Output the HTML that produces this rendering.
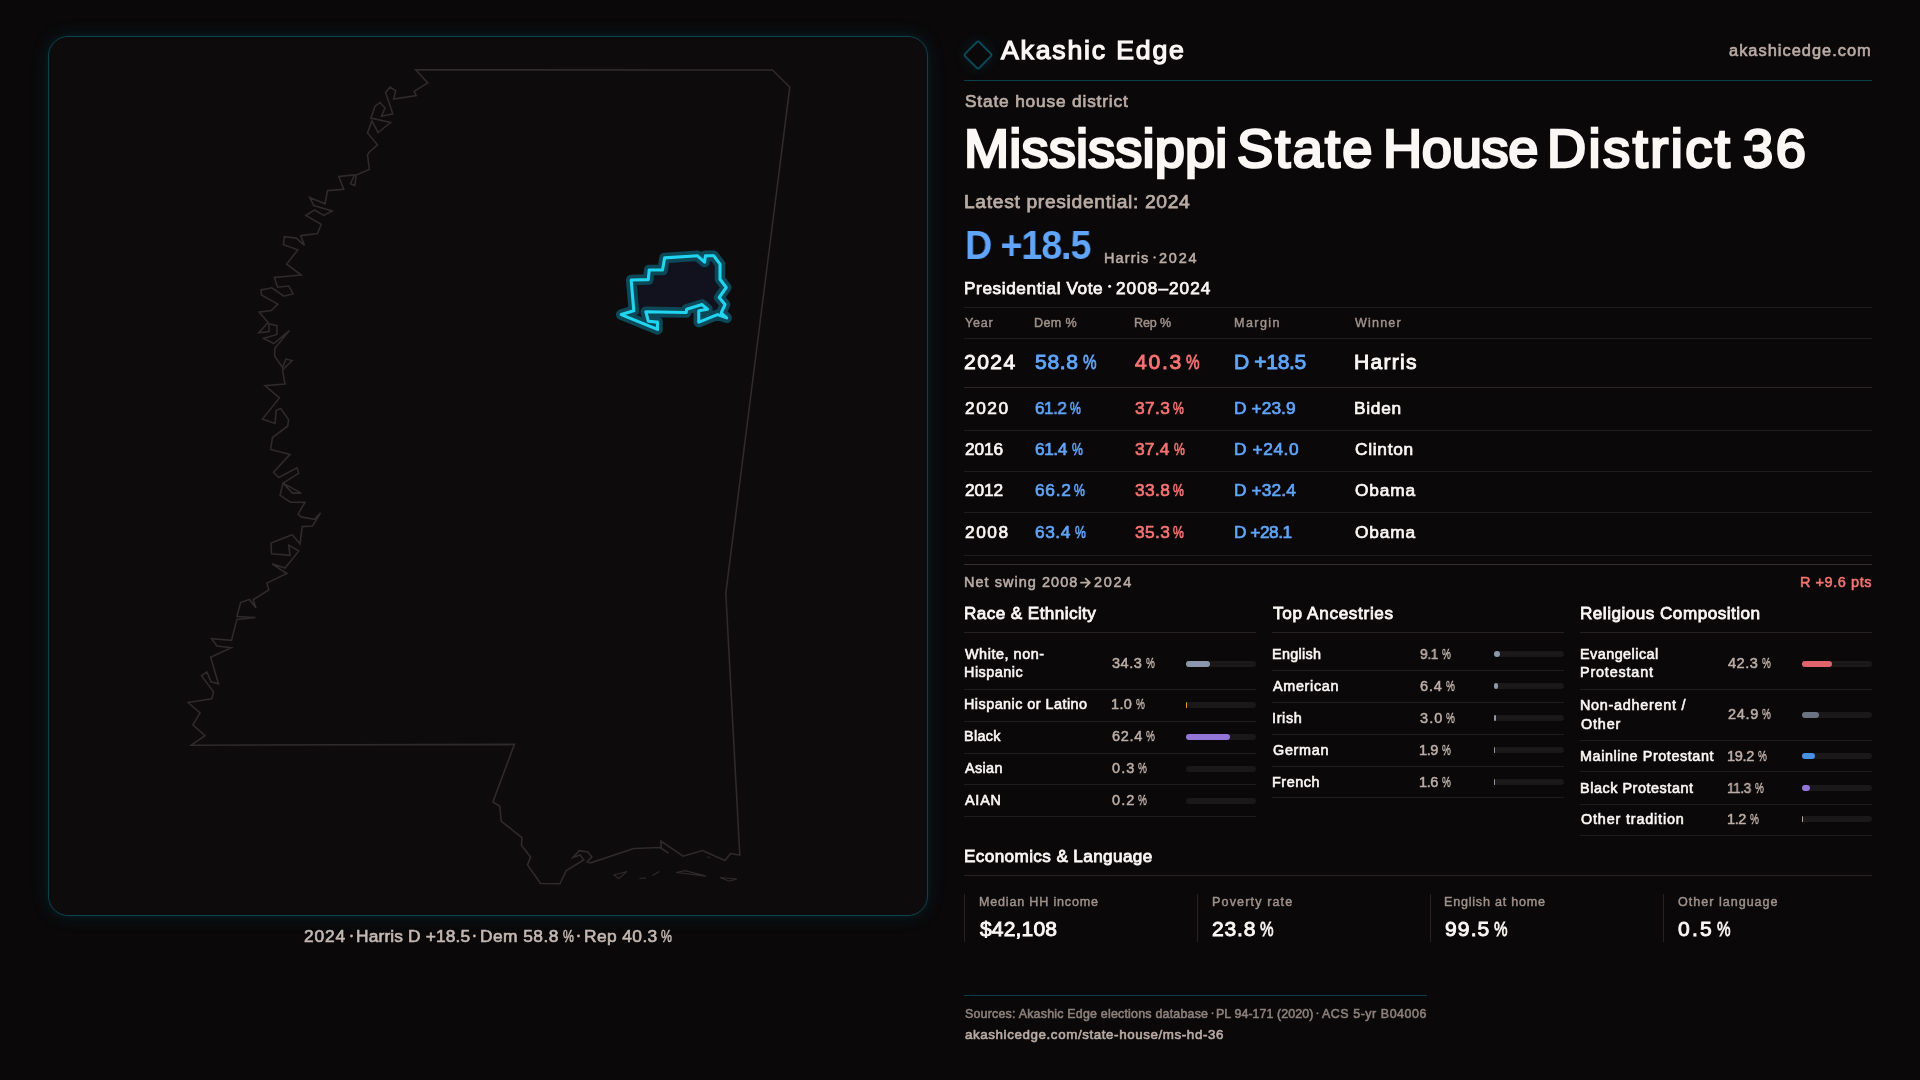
<!DOCTYPE html>
<html><head><meta charset="utf-8"><title>Mississippi State House District 36</title>
<style>
html,body{margin:0;padding:0;}
body{width:1920px;height:1080px;overflow:hidden;background:#0a0809;font-family:"Liberation Sans",sans-serif;position:relative;}
.t{position:absolute;white-space:pre;line-height:1;transform-origin:0 0;will-change:transform;}
.l{position:absolute;}
.bt{position:absolute;width:70px;height:6px;border-radius:3px;background:#1b1819;}
.bf{position:absolute;height:6px;}
#card{position:absolute;left:48px;top:36px;width:878px;height:878px;border:1px solid #0d4351;border-radius:20px;background:#0d0b0c;box-shadow:0 0 20px rgba(20,170,195,0.12),0 0 8px rgba(20,170,195,0.07);}
#logo{position:absolute;left:966.7px;top:44px;width:18px;height:18px;border:2px solid #0b4858;border-radius:3px;transform:rotate(45deg);box-shadow:0 0 14px rgba(20,170,195,0.15);}
svg{position:absolute;left:0;top:0;}
</style></head><body>
<div id="card"></div>
<svg width="1920" height="1080" viewBox="0 0 1920 1080">
<path d="M415.6 69.8 L427.8 82.9 L414.1 91.2 L416.2 95.6 L393.8 99.0 L395.6 90.6 L390.0 87.1 L385.6 92.5 L392.8 113.8 L381.6 116.2 L385.0 107.9 L380.0 102.5 L375.0 106.2 L370.9 118.1 L390.6 122.5 L378.1 132.5 L371.9 120.9 L367.5 132.9 L377.5 144.8 L369.4 151.9 L367.5 155.0 L369.4 169.4 L356.2 175.0 L354.8 185.6 L350.6 183.8 L354.4 175.0 L338.8 176.5 L343.8 189.4 L327.5 190.6 L325.0 203.8 L309.8 197.5 L313.8 205.6 L332.2 211.0 L323.8 215.4 L314.4 210.0 L305.9 215.4 L321.2 224.4 L317.5 233.5 L300.6 235.6 L304.4 245.4 L296.2 238.1 L284.4 236.6 L283.5 244.8 L297.9 249.8 L286.6 264.1 L301.2 275.0 L274.4 277.5 L277.5 287.2 L288.8 286.0 L293.1 293.8 L283.8 296.2 L271.9 287.8 L260.9 290.0 L261.5 295.0 L277.8 304.1 L271.2 310.6 L259.1 312.1 L268.1 322.5 L258.8 332.8 L269.0 331.6 L269.0 323.8 L276.9 325.6 L276.9 334.4 L263.5 338.5 L273.8 343.5 L289.4 330.6 L275.0 348.1 L274.6 356.0 L282.5 367.5 L286.0 359.0 L292.2 360.6 L282.5 370.0 L285.0 384.1 L265.0 385.6 L279.4 397.9 L262.5 419.0 L275.0 423.4 L276.2 410.2 L280.6 408.5 L288.5 419.4 L287.8 426.0 L272.5 437.5 L270.6 449.4 L290.0 454.4 L273.5 472.2 L278.8 477.5 L296.9 467.9 L298.8 473.1 L283.1 483.1 L301.2 493.1 L292.5 493.1 L283.1 483.1 L280.0 495.2 L290.4 502.2 L305.0 502.2 L298.1 514.0 L301.2 516.9 L314.4 519.4 L320.6 512.8 L312.5 526.0 L302.2 526.6 L300.0 543.8 L292.2 534.8 L271.0 543.1 L271.5 553.8 L290.0 555.4 L288.8 545.2 L298.8 551.0 L285.0 568.1 L271.9 563.8 L286.9 573.5 L266.9 583.1 L268.8 590.0 L253.1 599.8 L256.0 608.1 L249.4 599.4 L240.6 602.5 L236.9 616.5 L255.6 617.5 L236.9 619.4 L231.5 640.4 L211.6 638.8 L216.9 646.0 L231.2 647.8 L210.6 657.2 L218.5 683.8 L211.0 681.9 L206.9 671.9 L201.5 675.6 L213.5 691.9 L211.9 698.8 L188.1 702.5 L200.0 712.8 L192.9 724.8 L205.0 735.6 L191.2 745.2 L514.4 744.4 L492.9 801.9 L499.8 806.2 L501.2 821.2 L521.9 837.5 L521.5 845.6 L530.6 856.9 L527.5 865.0 L540.6 883.5 L560.0 883.8 L566.2 870.6 L583.8 860.0 L580.2 855.0 L573.1 857.2 L579.4 850.6 L587.8 851.9 L591.9 856.9 L587.2 861.9 L590.6 862.8 L633.8 848.5 L660.0 847.5 L668.5 853.1 L661.2 848.1 L660.9 841.0 L683.1 856.2 L702.5 850.6 L725.0 860.6 L730.6 853.5 L739.8 855.0 L725.8 593.3 L789.8 87.2 L772.5 70.0 Z" fill="none" stroke="#2f2a2b" stroke-width="1.6" stroke-linejoin="miter"/>
<path d="M613.8 875.0 L626.9 871.5 L618.8 878.5 Z M639.4 878.5 L646.0 877.8 M652.5 875.6 L659.4 871.5 M676.2 872.5 L685.0 870.6 L706.2 876.2 Z M720.0 877.5 L729.4 881.2 L736.9 879.0 Z M707.5 856.5 L710.0 858.0" fill="none" stroke="#2f2a2b" stroke-width="1.2"/>
<path d="M664.6 257.9 L697.5 255.8 L704.6 262.1 L705.4 255.8 L713.8 255.8 L720.0 264.2 L720.0 279.2 L726.2 287.5 L719.2 297.5 L725.0 304.6 L721.2 312.9 L726.7 317.9 L717.5 314.6 L698.8 322.1 L698.8 310.8 L707.5 309.2 L702.1 304.6 L686.7 309.2 L686.2 312.5 L645.8 311.7 L648.3 321.2 L657.5 322.1 L657.5 329.4 L621.2 314.6 L633.8 310.8 L631.2 280.0 L648.3 279.6 L649.2 270.0 L662.5 270.0 Z" fill="#12121e" stroke="#0c4857" stroke-width="10.5" stroke-linejoin="round"/>
<path d="M664.6 257.9 L697.5 255.8 L704.6 262.1 L705.4 255.8 L713.8 255.8 L720.0 264.2 L720.0 279.2 L726.2 287.5 L719.2 297.5 L725.0 304.6 L721.2 312.9 L726.7 317.9 L717.5 314.6 L698.8 322.1 L698.8 310.8 L707.5 309.2 L702.1 304.6 L686.7 309.2 L686.2 312.5 L645.8 311.7 L648.3 321.2 L657.5 322.1 L657.5 329.4 L621.2 314.6 L633.8 310.8 L631.2 280.0 L648.3 279.6 L649.2 270.0 L662.5 270.0 Z" fill="none" stroke="#21d5f0" stroke-width="3.1" stroke-linejoin="round"/>
<path d="M1081 582.7 H1089.4 M1085.6 578.6 L1089.8 582.7 L1085.6 586.8" fill="none" stroke="#baaca5" stroke-width="1.8" stroke-linecap="round" stroke-linejoin="round"/>
<circle cx="351.5" cy="936" r="1.4" fill="#c4b8b2"/><circle cx="474.4" cy="936" r="1.4" fill="#c4b8b2"/><circle cx="578.5" cy="936" r="1.4" fill="#c4b8b2"/>
<circle cx="1154.6" cy="257.4" r="1.2" fill="#baaca5"/><circle cx="1109.6" cy="286.2" r="1.5" fill="#faf7f5"/><circle cx="1212.5" cy="1013.2" r="1.05" fill="#8d817b"/><circle cx="1317.5" cy="1013.2" r="1.05" fill="#8d817b"/>
</svg>
<div id="logo"></div>
<div class="l" style="left:964px;top:80px;width:908px;height:1px;background:#093f4c"></div><div class="l" style="left:964px;top:307px;width:908px;height:1px;background:#1f1c1d"></div><div class="l" style="left:964px;top:338px;width:908px;height:1px;background:#1f1c1d"></div><div class="l" style="left:964px;top:430px;width:908px;height:1px;background:#1f1c1d"></div><div class="l" style="left:964px;top:471px;width:908px;height:1px;background:#1f1c1d"></div><div class="l" style="left:964px;top:512px;width:908px;height:1px;background:#1f1c1d"></div><div class="l" style="left:964px;top:555px;width:908px;height:1px;background:#1f1c1d"></div><div class="l" style="left:964px;top:387px;width:908px;height:1px;background:#2a2627"></div><div class="l" style="left:964px;top:564px;width:908px;height:1px;background:#343031"></div><div class="l" style="left:964px;top:632px;width:292px;height:1px;background:#262223"></div><div class="l" style="left:1272px;top:632px;width:292px;height:1px;background:#262223"></div><div class="l" style="left:1580px;top:632px;width:292px;height:1px;background:#262223"></div><div class="l" style="left:964px;top:689px;width:292px;height:1px;background:#1f1c1d"></div><div class="l" style="left:964px;top:721px;width:292px;height:1px;background:#1f1c1d"></div><div class="l" style="left:964px;top:753px;width:292px;height:1px;background:#1f1c1d"></div><div class="l" style="left:964px;top:784px;width:292px;height:1px;background:#1f1c1d"></div><div class="l" style="left:964px;top:816px;width:292px;height:1px;background:#1f1c1d"></div><div class="l" style="left:1272px;top:670px;width:292px;height:1px;background:#1f1c1d"></div><div class="l" style="left:1272px;top:702px;width:292px;height:1px;background:#1f1c1d"></div><div class="l" style="left:1272px;top:734px;width:292px;height:1px;background:#1f1c1d"></div><div class="l" style="left:1272px;top:766px;width:292px;height:1px;background:#1f1c1d"></div><div class="l" style="left:1272px;top:797px;width:292px;height:1px;background:#1f1c1d"></div><div class="l" style="left:1580px;top:689px;width:292px;height:1px;background:#1f1c1d"></div><div class="l" style="left:1580px;top:740px;width:292px;height:1px;background:#1f1c1d"></div><div class="l" style="left:1580px;top:771px;width:292px;height:1px;background:#1f1c1d"></div><div class="l" style="left:1580px;top:804px;width:292px;height:1px;background:#1f1c1d"></div><div class="l" style="left:1580px;top:835px;width:292px;height:1px;background:#1f1c1d"></div><div class="l" style="left:964px;top:875px;width:908px;height:1px;background:#262223"></div><div class="l" style="left:964px;top:894px;width:1px;height:48px;background:#262223"></div><div class="l" style="left:1197px;top:894px;width:1px;height:48px;background:#262223"></div><div class="l" style="left:1430px;top:894px;width:1px;height:48px;background:#262223"></div><div class="l" style="left:1663px;top:894px;width:1px;height:48px;background:#262223"></div><div class="l" style="left:964px;top:995px;width:463px;height:1px;background:#093f4c"></div>
<div class="bt" style="left:1186px;top:661px"></div><div class="bf" style="left:1186px;top:661px;width:24.01px;background:#8b98ac;border-radius:3.0px"></div><div class="bt" style="left:1186px;top:702px"></div><div class="bf" style="left:1186px;top:702px;width:1.30px;background:#e59a1c;border-radius:0.7px"></div><div class="bt" style="left:1186px;top:734px"></div><div class="bf" style="left:1186px;top:734px;width:43.68px;background:#9375d9;border-radius:3.0px"></div><div class="bt" style="left:1186px;top:766px"></div><div class="bt" style="left:1186px;top:798px"></div><div class="bt" style="left:1494px;top:651px"></div><div class="bf" style="left:1494px;top:651px;width:6.37px;background:#8b98ac;border-radius:3.0px"></div><div class="bt" style="left:1494px;top:683px"></div><div class="bf" style="left:1494px;top:683px;width:4.48px;background:#8b98ac;border-radius:2.2px"></div><div class="bt" style="left:1494px;top:715px"></div><div class="bf" style="left:1494px;top:715px;width:2.10px;background:#8b98ac;border-radius:1.1px"></div><div class="bt" style="left:1494px;top:747px"></div><div class="bf" style="left:1494px;top:747px;width:1.33px;background:#8b98ac;border-radius:0.7px"></div><div class="bt" style="left:1494px;top:779px"></div><div class="bf" style="left:1494px;top:779px;width:1.30px;background:#8b98ac;border-radius:0.7px"></div><div class="bt" style="left:1802px;top:661px"></div><div class="bf" style="left:1802px;top:661px;width:29.61px;background:#e0646b;border-radius:3.0px"></div><div class="bt" style="left:1802px;top:712px"></div><div class="bf" style="left:1802px;top:712px;width:17.43px;background:#6b7280;border-radius:3.0px"></div><div class="bt" style="left:1802px;top:753px"></div><div class="bf" style="left:1802px;top:753px;width:13.44px;background:#4a90e2;border-radius:3.0px"></div><div class="bt" style="left:1802px;top:785px"></div><div class="bf" style="left:1802px;top:785px;width:7.91px;background:#9375d9;border-radius:3.0px"></div><div class="bt" style="left:1802px;top:816px"></div><div class="bf" style="left:1802px;top:816px;width:1.30px;background:#b3a7a1;border-radius:0.7px"></div>
<div class="t" style="left:1001.00px;top:37.49px;font-size:26.67px;color:#faf7f5;letter-spacing:1.803px;-webkit-text-stroke:1.25px #faf7f5;">Akashic Edge</div>
<div class="t" style="left:1729.40px;top:42.44px;font-size:16.42px;color:#baaca5;letter-spacing:1.006px;-webkit-text-stroke:0.6px #baaca5;">akashicedge.com</div>
<div class="t" style="left:964.50px;top:92.95px;font-size:17.3px;color:#baaca5;letter-spacing:0.833px;-webkit-text-stroke:0.7px #baaca5;">State house district</div>
<div class="t" style="left:963.80px;top:121.44px;font-size:54.22px;color:#faf7f5;letter-spacing:0.115px;-webkit-text-stroke:2.6px #faf7f5;">Mississippi</div>
<div class="t" style="left:1236.75px;top:121.44px;font-size:54.22px;color:#faf7f5;letter-spacing:2.201px;-webkit-text-stroke:2.6px #faf7f5;">State</div>
<div class="t" style="left:1383.00px;top:121.44px;font-size:54.22px;color:#faf7f5;letter-spacing:-0.331px;-webkit-text-stroke:2.6px #faf7f5;">House</div>
<div class="t" style="left:1547.25px;top:121.44px;font-size:54.22px;color:#faf7f5;letter-spacing:2.452px;-webkit-text-stroke:2.6px #faf7f5;">District</div>
<div class="t" style="left:1743.00px;top:121.44px;font-size:54.22px;color:#faf7f5;letter-spacing:2.596px;-webkit-text-stroke:2.6px #faf7f5;">36</div>
<div class="t" style="left:964.40px;top:192.14px;font-size:19.26px;color:#baaca5;letter-spacing:0.669px;-webkit-text-stroke:0.75px #baaca5;">Latest presidential: 2024</div>
<div class="t" style="left:965.14px;top:225.40px;font-size:40.7px;color:#60a5fa;letter-spacing:-1.221px;transform:scaleX(0.9276);font-weight:700;">D +18.5</div>
<div class="t" style="left:1103.90px;top:250.95px;font-size:14.46px;color:#baaca5;letter-spacing:1.137px;-webkit-text-stroke:0.55px #baaca5;">Harris</div>
<div class="t" style="left:1158.80px;top:250.95px;font-size:14.46px;color:#baaca5;letter-spacing:1.795px;-webkit-text-stroke:0.55px #baaca5;">2024</div>
<div class="t" style="left:964.10px;top:279.96px;font-size:17.22px;color:#faf7f5;letter-spacing:0.598px;-webkit-text-stroke:0.75px #faf7f5;">Presidential Vote</div>
<div class="t" style="left:1115.70px;top:279.96px;font-size:17.22px;color:#faf7f5;letter-spacing:1.032px;-webkit-text-stroke:0.75px #faf7f5;">2008–2024</div>
<div class="t" style="left:965.00px;top:316.94px;font-size:12.57px;color:#9f918a;letter-spacing:0.767px;-webkit-text-stroke:0.45px #9f918a;">Year</div>
<div class="t" style="left:1033.50px;top:316.94px;font-size:12.57px;color:#9f918a;letter-spacing:0.372px;-webkit-text-stroke:0.45px #9f918a;">Dem %</div>
<div class="t" style="left:1133.50px;top:316.94px;font-size:12.57px;color:#9f918a;letter-spacing:-0.134px;-webkit-text-stroke:0.45px #9f918a;">Rep %</div>
<div class="t" style="left:1233.50px;top:316.94px;font-size:12.57px;color:#9f918a;letter-spacing:1.418px;-webkit-text-stroke:0.45px #9f918a;">Margin</div>
<div class="t" style="left:1354.50px;top:316.94px;font-size:12.57px;color:#9f918a;letter-spacing:1.178px;-webkit-text-stroke:0.45px #9f918a;">Winner</div>
<div class="t" style="left:964.00px;top:350.71px;font-size:21.08px;color:#faf7f5;letter-spacing:1.444px;-webkit-text-stroke:0.9px #faf7f5;">2024</div>
<div class="t" style="left:1034.50px;top:350.71px;font-size:21.08px;color:#60a5fa;letter-spacing:0.666px;-webkit-text-stroke:0.9px #60a5fa;">58.8</div>
<div class="t" style="left:1082.52px;top:350.71px;font-size:21.08px;color:#60a5fa;letter-spacing:0.000px;transform:scaleX(0.7211);-webkit-text-stroke:0.9px #60a5fa;">%</div>
<div class="t" style="left:1134.50px;top:350.71px;font-size:21.08px;color:#f87373;letter-spacing:1.750px;-webkit-text-stroke:0.9px #f87373;">40.3</div>
<div class="t" style="left:1185.77px;top:350.71px;font-size:21.08px;color:#f87373;letter-spacing:0.000px;transform:scaleX(0.7211);-webkit-text-stroke:0.9px #f87373;">%</div>
<div class="t" style="left:1233.50px;top:350.71px;font-size:21.08px;color:#60a5fa;letter-spacing:-0.365px;-webkit-text-stroke:0.9px #60a5fa;">D +18.5</div>
<div class="t" style="left:1353.50px;top:350.71px;font-size:21.08px;color:#faf7f5;letter-spacing:1.267px;-webkit-text-stroke:0.9px #faf7f5;">Harris</div>
<div class="t" style="left:964.50px;top:399.70px;font-size:17.3px;color:#faf7f5;letter-spacing:1.556px;-webkit-text-stroke:0.7px #faf7f5;">2020</div>
<div class="t" style="left:1034.50px;top:399.70px;font-size:17.3px;color:#60a5fa;letter-spacing:-0.519px;transform:scaleX(0.9915);-webkit-text-stroke:0.7px #60a5fa;">61.2</div>
<div class="t" style="left:1070.38px;top:399.70px;font-size:17.3px;color:#60a5fa;letter-spacing:0.000px;transform:scaleX(0.7080);-webkit-text-stroke:0.7px #60a5fa;">%</div>
<div class="t" style="left:1134.50px;top:399.70px;font-size:17.3px;color:#f87373;letter-spacing:0.392px;-webkit-text-stroke:0.7px #f87373;">37.3</div>
<div class="t" style="left:1173.38px;top:399.70px;font-size:17.3px;color:#f87373;letter-spacing:0.000px;transform:scaleX(0.7080);-webkit-text-stroke:0.7px #f87373;">%</div>
<div class="t" style="left:1233.50px;top:399.70px;font-size:17.3px;color:#60a5fa;letter-spacing:0.101px;-webkit-text-stroke:0.7px #60a5fa;">D +23.9</div>
<div class="t" style="left:1353.50px;top:399.70px;font-size:17.3px;color:#faf7f5;letter-spacing:0.728px;-webkit-text-stroke:0.7px #faf7f5;">Biden</div>
<div class="t" style="left:964.50px;top:440.95px;font-size:17.3px;color:#faf7f5;letter-spacing:-0.111px;-webkit-text-stroke:0.7px #faf7f5;">2016</div>
<div class="t" style="left:1034.50px;top:440.95px;font-size:17.3px;color:#60a5fa;letter-spacing:-0.441px;-webkit-text-stroke:0.7px #60a5fa;">61.4</div>
<div class="t" style="left:1071.88px;top:440.95px;font-size:17.3px;color:#60a5fa;letter-spacing:0.000px;transform:scaleX(0.7080);-webkit-text-stroke:0.7px #60a5fa;">%</div>
<div class="t" style="left:1134.50px;top:440.95px;font-size:17.3px;color:#f87373;letter-spacing:0.226px;-webkit-text-stroke:0.7px #f87373;">37.4</div>
<div class="t" style="left:1173.88px;top:440.95px;font-size:17.3px;color:#f87373;letter-spacing:0.000px;transform:scaleX(0.7080);-webkit-text-stroke:0.7px #f87373;">%</div>
<div class="t" style="left:1233.50px;top:440.95px;font-size:17.3px;color:#60a5fa;letter-spacing:0.601px;-webkit-text-stroke:0.7px #60a5fa;">D +24.0</div>
<div class="t" style="left:1354.50px;top:440.95px;font-size:17.3px;color:#faf7f5;letter-spacing:0.720px;-webkit-text-stroke:0.7px #faf7f5;">Clinton</div>
<div class="t" style="left:964.50px;top:482.45px;font-size:17.3px;color:#faf7f5;letter-spacing:-0.111px;-webkit-text-stroke:0.7px #faf7f5;">2012</div>
<div class="t" style="left:1034.50px;top:482.45px;font-size:17.3px;color:#60a5fa;letter-spacing:0.726px;-webkit-text-stroke:0.7px #60a5fa;">66.2</div>
<div class="t" style="left:1074.38px;top:482.45px;font-size:17.3px;color:#60a5fa;letter-spacing:0.000px;transform:scaleX(0.7080);-webkit-text-stroke:0.7px #60a5fa;">%</div>
<div class="t" style="left:1134.50px;top:482.45px;font-size:17.3px;color:#f87373;letter-spacing:0.392px;-webkit-text-stroke:0.7px #f87373;">33.8</div>
<div class="t" style="left:1173.38px;top:482.45px;font-size:17.3px;color:#f87373;letter-spacing:0.000px;transform:scaleX(0.7080);-webkit-text-stroke:0.7px #f87373;">%</div>
<div class="t" style="left:1233.50px;top:482.45px;font-size:17.3px;color:#60a5fa;letter-spacing:0.142px;-webkit-text-stroke:0.7px #60a5fa;">D +32.4</div>
<div class="t" style="left:1354.50px;top:482.45px;font-size:17.3px;color:#faf7f5;letter-spacing:0.860px;-webkit-text-stroke:0.7px #faf7f5;">Obama</div>
<div class="t" style="left:964.50px;top:524.45px;font-size:17.3px;color:#faf7f5;letter-spacing:1.556px;-webkit-text-stroke:0.7px #faf7f5;">2008</div>
<div class="t" style="left:1034.50px;top:524.45px;font-size:17.3px;color:#60a5fa;letter-spacing:0.559px;-webkit-text-stroke:0.7px #60a5fa;">63.4</div>
<div class="t" style="left:1074.88px;top:524.45px;font-size:17.3px;color:#60a5fa;letter-spacing:0.000px;transform:scaleX(0.7080);-webkit-text-stroke:0.7px #60a5fa;">%</div>
<div class="t" style="left:1134.50px;top:524.45px;font-size:17.3px;color:#f87373;letter-spacing:0.392px;-webkit-text-stroke:0.7px #f87373;">35.3</div>
<div class="t" style="left:1173.38px;top:524.45px;font-size:17.3px;color:#f87373;letter-spacing:0.000px;transform:scaleX(0.7080);-webkit-text-stroke:0.7px #f87373;">%</div>
<div class="t" style="left:1233.50px;top:524.45px;font-size:17.3px;color:#60a5fa;letter-spacing:-0.483px;-webkit-text-stroke:0.7px #60a5fa;">D +28.1</div>
<div class="t" style="left:1354.50px;top:524.45px;font-size:17.3px;color:#faf7f5;letter-spacing:0.860px;-webkit-text-stroke:0.7px #faf7f5;">Obama</div>
<div class="t" style="left:963.50px;top:575.45px;font-size:14.46px;color:#baaca5;letter-spacing:1.051px;-webkit-text-stroke:0.55px #baaca5;">Net swing 2008</div>
<div class="t" style="left:1094.25px;top:575.45px;font-size:14.46px;color:#baaca5;letter-spacing:1.712px;-webkit-text-stroke:0.55px #baaca5;">2024</div>
<div class="t" style="left:1800.25px;top:575.45px;font-size:14.46px;color:#f87373;letter-spacing:0.577px;-webkit-text-stroke:0.55px #f87373;">R +9.6 pts</div>
<div class="t" style="left:963.50px;top:604.98px;font-size:17.15px;color:#faf7f5;letter-spacing:0.405px;-webkit-text-stroke:0.8px #faf7f5;">Race &amp; Ethnicity</div>
<div class="t" style="left:1272.50px;top:604.98px;font-size:17.15px;color:#faf7f5;letter-spacing:0.666px;-webkit-text-stroke:0.8px #faf7f5;">Top Ancestries</div>
<div class="t" style="left:1579.50px;top:604.98px;font-size:17.15px;color:#faf7f5;letter-spacing:0.475px;-webkit-text-stroke:0.8px #faf7f5;">Religious Composition</div>
<div class="t" style="left:963.50px;top:847.98px;font-size:17.15px;color:#faf7f5;letter-spacing:0.381px;-webkit-text-stroke:0.8px #faf7f5;">Economics &amp; Language</div>
<div class="t" style="left:964.50px;top:646.71px;font-size:14.39px;color:#faf7f5;letter-spacing:0.553px;-webkit-text-stroke:0.6px #faf7f5;">White, non-</div>
<div class="t" style="left:963.50px;top:665.46px;font-size:14.39px;color:#faf7f5;letter-spacing:0.509px;-webkit-text-stroke:0.6px #faf7f5;">Hispanic</div>
<div class="t" style="left:963.50px;top:697.46px;font-size:14.39px;color:#faf7f5;letter-spacing:0.467px;-webkit-text-stroke:0.6px #faf7f5;">Hispanic or Latino</div>
<div class="t" style="left:963.50px;top:729.46px;font-size:14.39px;color:#faf7f5;letter-spacing:0.322px;-webkit-text-stroke:0.6px #faf7f5;">Black</div>
<div class="t" style="left:964.50px;top:761.46px;font-size:14.39px;color:#faf7f5;letter-spacing:0.384px;-webkit-text-stroke:0.6px #faf7f5;">Asian</div>
<div class="t" style="left:964.50px;top:793.46px;font-size:14.39px;color:#faf7f5;letter-spacing:0.777px;-webkit-text-stroke:0.6px #faf7f5;">AIAN</div>
<div class="t" style="left:1112.00px;top:655.94px;font-size:14.53px;color:#bcaea7;letter-spacing:0.524px;-webkit-text-stroke:0.5px #bcaea7;">34.3</div>
<div class="t" style="left:1145.65px;top:655.94px;font-size:14.53px;color:#bcaea7;letter-spacing:0.000px;transform:scaleX(0.6808);-webkit-text-stroke:0.5px #bcaea7;">%</div>
<div class="t" style="left:1111.00px;top:697.44px;font-size:14.53px;color:#bcaea7;letter-spacing:0.322px;-webkit-text-stroke:0.5px #bcaea7;">1.0</div>
<div class="t" style="left:1135.65px;top:697.44px;font-size:14.53px;color:#bcaea7;letter-spacing:0.000px;transform:scaleX(0.6808);-webkit-text-stroke:0.5px #bcaea7;">%</div>
<div class="t" style="left:1112.00px;top:729.44px;font-size:14.53px;color:#bcaea7;letter-spacing:0.690px;-webkit-text-stroke:0.5px #bcaea7;">62.4</div>
<div class="t" style="left:1146.15px;top:729.44px;font-size:14.53px;color:#bcaea7;letter-spacing:0.000px;transform:scaleX(0.6808);-webkit-text-stroke:0.5px #bcaea7;">%</div>
<div class="t" style="left:1112.00px;top:761.44px;font-size:14.53px;color:#bcaea7;letter-spacing:1.072px;-webkit-text-stroke:0.5px #bcaea7;">0.3</div>
<div class="t" style="left:1138.15px;top:761.44px;font-size:14.53px;color:#bcaea7;letter-spacing:0.000px;transform:scaleX(0.6808);-webkit-text-stroke:0.5px #bcaea7;">%</div>
<div class="t" style="left:1112.00px;top:793.44px;font-size:14.53px;color:#bcaea7;letter-spacing:1.072px;-webkit-text-stroke:0.5px #bcaea7;">0.2</div>
<div class="t" style="left:1138.15px;top:793.44px;font-size:14.53px;color:#bcaea7;letter-spacing:0.000px;transform:scaleX(0.6808);-webkit-text-stroke:0.5px #bcaea7;">%</div>
<div class="t" style="left:1271.50px;top:646.71px;font-size:14.39px;color:#faf7f5;letter-spacing:0.308px;-webkit-text-stroke:0.6px #faf7f5;">English</div>
<div class="t" style="left:1272.50px;top:678.71px;font-size:14.39px;color:#faf7f5;letter-spacing:0.683px;-webkit-text-stroke:0.6px #faf7f5;">American</div>
<div class="t" style="left:1271.50px;top:710.71px;font-size:14.39px;color:#faf7f5;letter-spacing:0.647px;-webkit-text-stroke:0.6px #faf7f5;">Irish</div>
<div class="t" style="left:1272.50px;top:742.71px;font-size:14.39px;color:#faf7f5;letter-spacing:0.714px;-webkit-text-stroke:0.6px #faf7f5;">German</div>
<div class="t" style="left:1271.50px;top:774.71px;font-size:14.39px;color:#faf7f5;letter-spacing:0.551px;-webkit-text-stroke:0.6px #faf7f5;">French</div>
<div class="t" style="left:1420.00px;top:646.69px;font-size:14.53px;color:#bcaea7;letter-spacing:-0.436px;transform:scaleX(0.9488);-webkit-text-stroke:0.5px #bcaea7;">9.1</div>
<div class="t" style="left:1442.15px;top:646.69px;font-size:14.53px;color:#bcaea7;letter-spacing:0.000px;transform:scaleX(0.6808);-webkit-text-stroke:0.5px #bcaea7;">%</div>
<div class="t" style="left:1420.00px;top:678.69px;font-size:14.53px;color:#bcaea7;letter-spacing:0.822px;-webkit-text-stroke:0.5px #bcaea7;">6.4</div>
<div class="t" style="left:1445.65px;top:678.69px;font-size:14.53px;color:#bcaea7;letter-spacing:0.000px;transform:scaleX(0.6808);-webkit-text-stroke:0.5px #bcaea7;">%</div>
<div class="t" style="left:1420.00px;top:710.69px;font-size:14.53px;color:#bcaea7;letter-spacing:1.072px;-webkit-text-stroke:0.5px #bcaea7;">3.0</div>
<div class="t" style="left:1446.15px;top:710.69px;font-size:14.53px;color:#bcaea7;letter-spacing:0.000px;transform:scaleX(0.6808);-webkit-text-stroke:0.5px #bcaea7;">%</div>
<div class="t" style="left:1419.00px;top:742.69px;font-size:14.53px;color:#bcaea7;letter-spacing:-0.428px;-webkit-text-stroke:0.5px #bcaea7;">1.9</div>
<div class="t" style="left:1442.15px;top:742.69px;font-size:14.53px;color:#bcaea7;letter-spacing:0.000px;transform:scaleX(0.6808);-webkit-text-stroke:0.5px #bcaea7;">%</div>
<div class="t" style="left:1419.00px;top:774.69px;font-size:14.53px;color:#bcaea7;letter-spacing:-0.428px;-webkit-text-stroke:0.5px #bcaea7;">1.6</div>
<div class="t" style="left:1442.15px;top:774.69px;font-size:14.53px;color:#bcaea7;letter-spacing:0.000px;transform:scaleX(0.6808);-webkit-text-stroke:0.5px #bcaea7;">%</div>
<div class="t" style="left:1579.50px;top:646.71px;font-size:14.39px;color:#faf7f5;letter-spacing:0.468px;-webkit-text-stroke:0.6px #faf7f5;">Evangelical</div>
<div class="t" style="left:1579.50px;top:665.46px;font-size:14.39px;color:#faf7f5;letter-spacing:0.830px;-webkit-text-stroke:0.6px #faf7f5;">Protestant</div>
<div class="t" style="left:1579.50px;top:697.96px;font-size:14.39px;color:#faf7f5;letter-spacing:0.738px;-webkit-text-stroke:0.6px #faf7f5;">Non-adherent /</div>
<div class="t" style="left:1580.50px;top:716.71px;font-size:14.39px;color:#faf7f5;letter-spacing:0.834px;-webkit-text-stroke:0.6px #faf7f5;">Other</div>
<div class="t" style="left:1579.50px;top:749.21px;font-size:14.39px;color:#faf7f5;letter-spacing:0.580px;-webkit-text-stroke:0.6px #faf7f5;">Mainline Protestant</div>
<div class="t" style="left:1579.50px;top:780.96px;font-size:14.39px;color:#faf7f5;letter-spacing:0.555px;-webkit-text-stroke:0.6px #faf7f5;">Black Protestant</div>
<div class="t" style="left:1580.50px;top:812.21px;font-size:14.39px;color:#faf7f5;letter-spacing:0.833px;-webkit-text-stroke:0.6px #faf7f5;">Other tradition</div>
<div class="t" style="left:1728.00px;top:655.94px;font-size:14.53px;color:#bcaea7;letter-spacing:0.524px;-webkit-text-stroke:0.5px #bcaea7;">42.3</div>
<div class="t" style="left:1761.65px;top:655.94px;font-size:14.53px;color:#bcaea7;letter-spacing:0.000px;transform:scaleX(0.6808);-webkit-text-stroke:0.5px #bcaea7;">%</div>
<div class="t" style="left:1728.00px;top:706.69px;font-size:14.53px;color:#bcaea7;letter-spacing:0.690px;-webkit-text-stroke:0.5px #bcaea7;">24.9</div>
<div class="t" style="left:1762.15px;top:706.69px;font-size:14.53px;color:#bcaea7;letter-spacing:0.000px;transform:scaleX(0.6808);-webkit-text-stroke:0.5px #bcaea7;">%</div>
<div class="t" style="left:1727.00px;top:749.19px;font-size:14.53px;color:#bcaea7;letter-spacing:-0.310px;-webkit-text-stroke:0.5px #bcaea7;">19.2</div>
<div class="t" style="left:1758.15px;top:749.19px;font-size:14.53px;color:#bcaea7;letter-spacing:0.000px;transform:scaleX(0.6808);-webkit-text-stroke:0.5px #bcaea7;">%</div>
<div class="t" style="left:1727.06px;top:780.94px;font-size:14.53px;color:#bcaea7;letter-spacing:-0.436px;transform:scaleX(0.9378);-webkit-text-stroke:0.5px #bcaea7;">11.3</div>
<div class="t" style="left:1755.15px;top:780.94px;font-size:14.53px;color:#bcaea7;letter-spacing:0.000px;transform:scaleX(0.6808);-webkit-text-stroke:0.5px #bcaea7;">%</div>
<div class="t" style="left:1727.01px;top:812.19px;font-size:14.53px;color:#bcaea7;letter-spacing:-0.436px;transform:scaleX(0.9872);-webkit-text-stroke:0.5px #bcaea7;">1.2</div>
<div class="t" style="left:1749.90px;top:812.19px;font-size:14.53px;color:#bcaea7;letter-spacing:0.000px;transform:scaleX(0.6808);-webkit-text-stroke:0.5px #bcaea7;">%</div>
<div class="t" style="left:978.50px;top:896.44px;font-size:12.57px;color:#9f918a;letter-spacing:0.811px;-webkit-text-stroke:0.45px #9f918a;">Median HH income</div>
<div class="t" style="left:1211.50px;top:896.44px;font-size:12.57px;color:#9f918a;letter-spacing:1.137px;-webkit-text-stroke:0.45px #9f918a;">Poverty rate</div>
<div class="t" style="left:1444.00px;top:896.44px;font-size:12.57px;color:#9f918a;letter-spacing:0.779px;-webkit-text-stroke:0.45px #9f918a;">English at home</div>
<div class="t" style="left:1678.00px;top:896.44px;font-size:12.57px;color:#9f918a;letter-spacing:0.998px;-webkit-text-stroke:0.45px #9f918a;">Other language</div>
<div class="t" style="left:980.00px;top:917.71px;font-size:21.08px;color:#faf7f5;letter-spacing:0.130px;-webkit-text-stroke:0.9px #faf7f5;">$42,108</div>
<div class="t" style="left:1211.50px;top:917.71px;font-size:21.08px;color:#faf7f5;letter-spacing:0.833px;-webkit-text-stroke:0.9px #faf7f5;">23.8</div>
<div class="t" style="left:1260.02px;top:917.71px;font-size:21.08px;color:#faf7f5;letter-spacing:0.000px;transform:scaleX(0.7211);-webkit-text-stroke:0.9px #faf7f5;">%</div>
<div class="t" style="left:1445.00px;top:917.71px;font-size:21.08px;color:#faf7f5;letter-spacing:1.100px;-webkit-text-stroke:0.9px #faf7f5;">99.5</div>
<div class="t" style="left:1494.32px;top:917.71px;font-size:21.08px;color:#faf7f5;letter-spacing:0.000px;transform:scaleX(0.7211);-webkit-text-stroke:0.9px #faf7f5;">%</div>
<div class="t" style="left:1678.00px;top:917.71px;font-size:21.08px;color:#faf7f5;letter-spacing:2.211px;-webkit-text-stroke:0.9px #faf7f5;">0.5</div>
<div class="t" style="left:1716.72px;top:917.71px;font-size:21.08px;color:#faf7f5;letter-spacing:0.000px;transform:scaleX(0.7211);-webkit-text-stroke:0.9px #faf7f5;">%</div>
<div class="t" style="left:964.50px;top:1007.96px;font-size:12.43px;color:#8d817b;letter-spacing:0.210px;-webkit-text-stroke:0.55px #8d817b;">Sources: Akashic Edge elections database</div>
<div class="t" style="left:1216.00px;top:1007.96px;font-size:12.43px;color:#8d817b;letter-spacing:0.080px;-webkit-text-stroke:0.55px #8d817b;">PL 94-171 (2020)</div>
<div class="t" style="left:1321.75px;top:1007.96px;font-size:12.43px;color:#8d817b;letter-spacing:0.553px;-webkit-text-stroke:0.55px #8d817b;">ACS 5-yr B04006</div>
<div class="t" style="left:964.50px;top:1027.72px;font-size:13.37px;color:#baaca5;letter-spacing:0.594px;-webkit-text-stroke:0.6px #baaca5;">akashicedge.com/state-house/ms-hd-36</div>
<div class="t" style="left:304.20px;top:927.94px;font-size:17.37px;color:#c4b8b2;letter-spacing:0.879px;-webkit-text-stroke:0.65px #c4b8b2;">2024</div>
<div class="t" style="left:356.10px;top:927.94px;font-size:17.37px;color:#c4b8b2;letter-spacing:0.135px;-webkit-text-stroke:0.65px #c4b8b2;">Harris D +18.5</div>
<div class="t" style="left:480.25px;top:927.94px;font-size:17.37px;color:#c4b8b2;letter-spacing:0.449px;-webkit-text-stroke:0.65px #c4b8b2;">Dem 58.8</div>
<div class="t" style="left:562.68px;top:927.94px;font-size:17.37px;color:#c4b8b2;letter-spacing:0.000px;transform:scaleX(0.7080);-webkit-text-stroke:0.65px #c4b8b2;">%</div>
<div class="t" style="left:583.80px;top:927.94px;font-size:17.37px;color:#c4b8b2;letter-spacing:0.400px;-webkit-text-stroke:0.65px #c4b8b2;">Rep 40.3</div>
<div class="t" style="left:661.08px;top:927.94px;font-size:17.37px;color:#c4b8b2;letter-spacing:0.000px;transform:scaleX(0.7080);-webkit-text-stroke:0.65px #c4b8b2;">%</div>
</body></html>
